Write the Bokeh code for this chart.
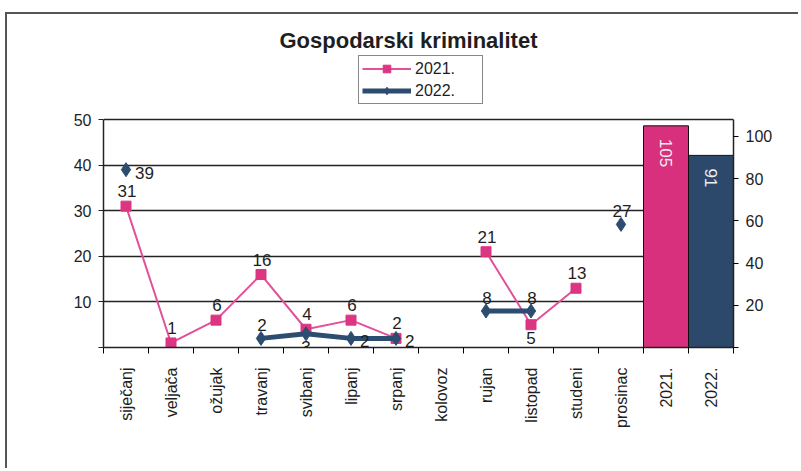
import math
from bokeh.plotting import figure
from bokeh.models import (ColumnDataSource, Range1d, LinearAxis, CustomJSTickFormatter,
                          FixedTicker, Legend, LegendItem)
from bokeh.core.properties import value
from bokeh.embed import file_html
from bokeh.resources import INLINE

# ---------------- data ----------------
months = ["siječanj", "veljača", "ožujak", "travanj", "svibanj", "lipanj", "srpanj",
          "kolovoz", "rujan", "listopad", "studeni", "prosinac"]
year_cats = ["2021.", "2022."]
v2021 = [31, 1, 6, 16, 4, 6, 2, None, 21, 5, 13, None]
v2022 = [39, None, None, 2, 3, 2, 2, None, 8, 8, None, 27]
totals = [105, 91]
left_ticks = [0, 10, 20, 30, 40, 50]
right_ticks = [0, 20, 40, 60, 80, 100]
left_max = 50
right_max = 108

# label placement (style, not data)
pos2021 = ["above", "above", "above", "above", "above", "above", "above", None,
           "above", "below", "above", None]
pos2022 = ["right", None, None, "above", "below", "right", "right", None,
           "above", "above", None, "above"]

categories = months + year_cats
idx = list(range(len(categories)))          # category index on the x scale
mx = idx[:len(months)]
bx = idx[len(months):]

FONT = value("Liberation Sans")
PINK_LINE = "#E2509A"
PINK = "#DC3582"
PINK_BAR = "#D8307C"
NAVY = "#2C4C70"
NAVY_BAR = "#2C496B"
INK = "#1e1e1e"

# layout (pixels)
W, H = 793, 456
MB_L, MB_R, MB_T, MB_B = 96, 67, 38, 123
AXIS_PX = 228                      # height of the 0..50 value band
frame_h = H - MB_T - MB_B
stretch = frame_h / AXIS_PX        # frame extends above the value band to hold the legend

p = figure(width=W, height=H, output_backend="svg", toolbar_location=None,
           x_range=Range1d(-0.5, len(categories) - 0.5),
           y_range=Range1d(0, left_max * stretch), x_axis_location=None,
           min_border_left=MB_L, min_border_right=MB_R, min_border_top=MB_T,
           min_border_bottom=MB_B)
p.extra_y_ranges = {"right": Range1d(0, right_max * stretch)}
p.background_fill_color = "white"
p.border_fill_color = "white"
p.outline_line_color = None
p.styles = {"border-top": "2px solid #555555", "border-left": "2px solid #555555",
            "margin-left": "5px", "margin-top": "12px"}

# title
p.title.text = "Gospodarski kriminalitet"
p.title.align = "left"
p.title.offset = 176
p.title.text_font = "Liberation Sans"
p.title.text_font_size = "22px"
p.title.text_font_style = "bold"
p.title.text_color = INK
p.title.standoff = 0

# grid (50 line closes the plot area at the top)
p.xgrid.visible = False
p.ygrid.ticker = FixedTicker(ticks=[10, 20, 30, 40, 50])
p.ygrid.grid_line_color = "#222222"
p.ygrid.grid_line_width = 1.5

# left axis
ya = p.yaxis[0]
ya.ticker = FixedTicker(ticks=left_ticks)
ya.bounds = (0, left_max)
ya.major_label_overrides = {0: ""}
ya.major_tick_out = 5
ya.major_tick_in = 0
ya.minor_tick_line_color = None
ya.axis_line_color = "#222222"
ya.axis_line_width = 1.5
ya.major_tick_line_color = "#222222"
ya.major_label_text_font = "Liberation Sans"
ya.major_label_text_font_size = "16px"
ya.major_label_text_color = INK
ya.major_label_standoff = 7

# right axis
ra = LinearAxis(y_range_name="right", ticker=FixedTicker(ticks=right_ticks))
ra.bounds = (0, right_max)
ra.major_label_overrides = {0: ""}
ra.major_tick_out = 5
ra.major_tick_in = 0
ra.minor_tick_line_color = None
ra.axis_line_color = "#222222"
ra.axis_line_width = 1.5
ra.major_label_text_font = "Liberation Sans"
ra.major_label_text_font_size = "16px"
ra.major_label_text_color = INK
ra.major_label_standoff = 7
p.add_layout(ra, "right")

# bottom: tick marks at category boundaries, then category labels
ta = LinearAxis(ticker=FixedTicker(ticks=[i - 0.5 for i in range(len(categories) + 1)]),
                formatter=CustomJSTickFormatter(code="return ''"))
ta.major_label_standoff = 0
ta.major_tick_out = 6
ta.major_tick_in = 0
ta.minor_tick_line_color = None
ta.axis_line_color = "#222222"
ta.axis_line_width = 1.5
p.add_layout(ta, "below")

ca = LinearAxis(ticker=FixedTicker(ticks=idx))
ca.major_label_overrides = {i: c for i, c in zip(idx, categories)}
ca.axis_line_color = None
ca.major_tick_line_color = None
ca.minor_tick_line_color = None
ca.major_label_orientation = math.pi / 2
ca.major_label_standoff = 8
ca.major_label_text_font = "Liberation Sans"
ca.major_label_text_font_size = "16px"
ca.major_label_text_color = INK
p.add_layout(ca, "below")

# bars (secondary axis)
bar_src = ColumnDataSource(dict(x=bx, top=totals, color=[PINK_BAR, NAVY_BAR],
                                t=[str(v) for v in totals]))
p.vbar(x="x", top="top", width=1.0, source=bar_src, fill_color="color",
       line_color="#111111", line_width=1, y_range_name="right")
p.text(x="x", y="top", text="t", source=bar_src, y_range_name="right",
       angle=-math.pi / 2, text_align="left", text_baseline="middle",
       y_offset=13, text_font=FONT, text_font_size="17px", text_color="#eeeeee")

# lines
def nanify(vals):
    return [float("nan") if v is None else v for v in vals]

src21 = ColumnDataSource(dict(x=mx, y=nanify(v2021)))
src22 = ColumnDataSource(dict(x=mx, y=nanify(v2022)))
l21 = p.line("x", "y", source=src21, line_color=PINK_LINE, line_width=2)
s21 = p.scatter("x", "y", source=src21, marker="square", size=10,
                fill_color=PINK, line_color=PINK)
l22 = p.line("x", "y", source=src22, line_color=NAVY, line_width=5)
s22 = p.scatter("x", "y", source=src22, marker="diamond", size=14,
                fill_color=NAVY, line_color=NAVY)

# data labels
placement = {
    "above": dict(text_align="center", text_baseline="alphabetic", x_offset=1),
    "below": dict(text_align="center", text_baseline="alphabetic", x_offset=0, y_offset=13),
    "right": dict(text_align="left", text_baseline="alphabetic", x_offset=9, y_offset=3),
}
above_dy = {0: -15, 1: -13}
for s, (vals, poss) in enumerate(((v2021, pos2021), (v2022, pos2022))):
    for key, opts in placement.items():
        xs = [x for x, v, ps in zip(mx, vals, poss) if v is not None and ps == key]
        ys = [v for v, ps in zip(vals, poss) if v is not None and ps == key]
        if not xs:
            continue
        o = dict(opts)
        if key == "above":
            o["y_offset"] = above_dy[s]
        src = ColumnDataSource(dict(x=xs, y=ys, t=[str(v) for v in ys]))
        p.text(x="x", y="y", text="t", source=src, text_font=FONT,
               text_font_size="17px", text_color=INK, **o)

# legend (inside the stretched frame, above the 50 line)
legend = Legend(items=[LegendItem(label="2021.", renderers=[l21, s21]),
                       LegendItem(label="2022.", renderers=[l22, s22])],
                location=(255, 243), orientation="vertical",
                padding=3, spacing=3, margin=0, glyph_width=49, glyph_height=19,
                label_height=19, label_width=64, label_standoff=4,
                label_text_font="Liberation Sans", label_text_font_size="16px",
                label_text_color=INK, border_line_color="#111111", border_line_width=1.5,
                background_fill_color="white", background_fill_alpha=1)
p.add_layout(legend)

open("out.html", "w").write(file_html(p, INLINE))
